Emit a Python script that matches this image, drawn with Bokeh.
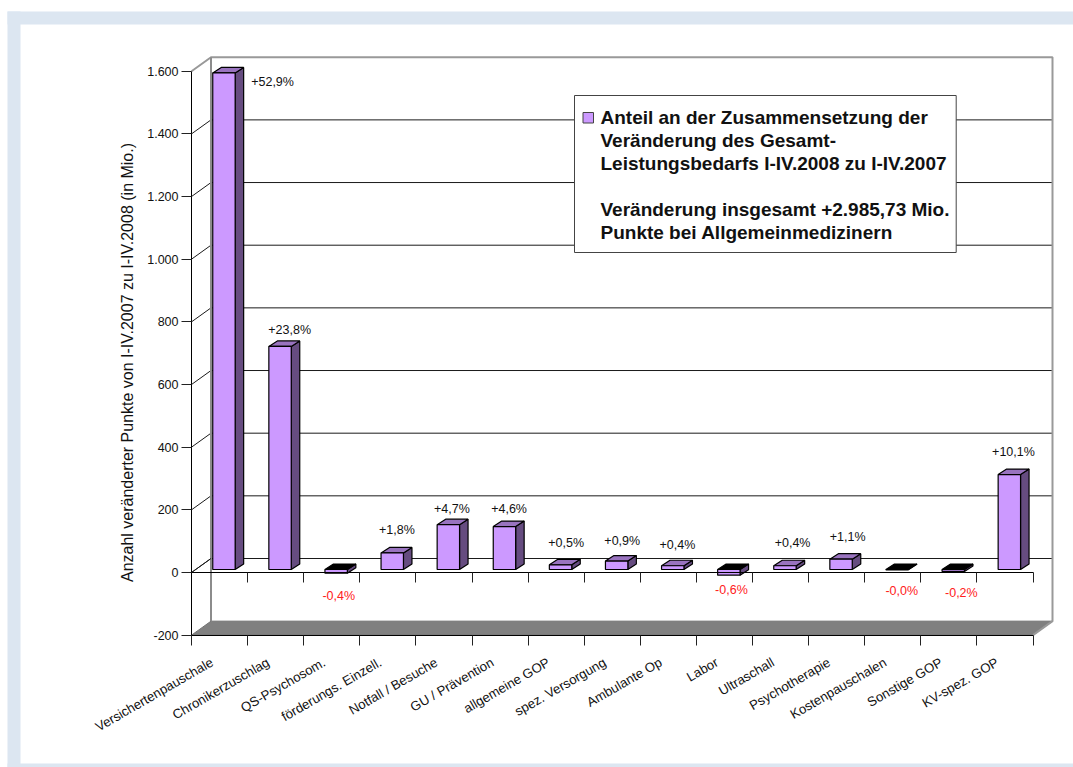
from bokeh.plotting import figure
from bokeh.embed import file_html
from bokeh.resources import INLINE
from bokeh.models import Range1d, LinearAxis, FixedTicker
from bokeh.core.properties import value

categories = ["Versichertenpauschale", "Chronikerzuschlag", "QS-Psychosom.", "förderungs. Einzell.",
              "Notfall / Besuche", "GU / Prävention", "allgemeine GOP", "spez. Versorgung", "Ambulante Op",
              "Labor", "Ultraschall", "Psychotherapie", "Kostenpauschalen", "Sonstige GOP", "KV-spez. GOP"]
values = [1585, 712, -12, 53, 143, 137, 15, 27, 12, -18, 12, 33, -1, -6, 303]
share_labels = ["+52,9%", "+23,8%", "-0,4%", "+1,8%", "+4,7%", "+4,6%", "+0,5%", "+0,9%", "+0,4%",
                "-0,6%", "+0,4%", "+1,1%", "-0,0%", "-0,2%", "+10,1%"]
y_ticks = [-200, 0, 200, 400, 600, 800, 1000, 1200, 1400, 1600]
y_tick_labels = ["-200", "0", "200", "400", "600", "800", "1.000", "1.200", "1.400", "1.600"]
y_title = "Anzahl veränderter Punkte von I-IV.2007 zu I-IV.2008 (in Mio.)"
legend_lines = ["Anteil an der Zusammensetzung der", "Veränderung des Gesamt-",
                "Leistungsbedarfs I-IV.2008 zu I-IV.2007", "",
                "Veränderung insgesamt +2.985,73 Mio.", "Punkte bei Allgemeinmedizinern"]

# layout (page pixels)
ORG = 0
W, H = 1073, 767
X0, CAT_W = 191.0, 56.1
Y0, PX_PER = 572.0, 0.3133
WALL_DX, WALL_DY = 19.5, -14.0
BAR_DX, BAR_DY = 4.4, -3.0
BAR_W = 22.4
SIDE_DX, SIDE_DY = 8.5, -5.5
LABEL_SHIFT = -7.5
label_off = [(48, 9), (9, -16), (2, 26), (4, -23), (3, -16), (4, -18), (5, -22), (5, -20), (4, -21),
             (2, 20), (7, -23), (6, -22), (4, 21), (7.5, 23), (3.5, -23)]
FACE, TOP, SIDE = "#CC99FF", "#9973BF", "#664C80"
FONT = "Liberation Sans"


def X(px):
    return (px - X0) / CAT_W


def Y(py):
    return (Y0 - py) / PX_PER


def dX(d):
    return d / CAT_W


def dY(d):
    return -d / PX_PER


p = figure(width=W, height=H, output_backend="svg", toolbar_location=None,
           x_axis_type=None, y_axis_type=None, min_border=0,
           x_range=Range1d(X(ORG), X(ORG + W)), y_range=Range1d(Y(ORG + H), Y(ORG)))
p.grid.visible = False
p.outline_line_color = None
p.background_fill_color = "white"
p.border_fill_color = "white"

# page frame
p.quad(left=[X(7), X(7), X(7)], right=[X(ORG + W), X(20), X(ORG + W)],
       top=[Y(11), Y(11), Y(763)], bottom=[Y(24), Y(ORG + H), Y(ORG + H)],
       fill_color="#DCE6F1", line_color=None)

# walls
wx, wy = dX(WALL_DX), dY(WALL_DY)
n = len(categories)
p.patch([0, wx, n + wx, n], [-200, -200 + wy, -200 + wy, -200], fill_color="#808080",
        line_color="#707070", line_width=1)
grid_vals = [t for t in y_ticks if -200 < t < 1600]
p.segment(x0=[wx] * len(grid_vals), x1=[n + wx] * len(grid_vals),
          y0=[t + wy for t in grid_vals], y1=[t + wy for t in grid_vals], line_color="#1a1a1a", line_width=1)
p.segment(x0=[0] * len(grid_vals), x1=[wx] * len(grid_vals), y0=grid_vals,
          y1=[t + wy for t in grid_vals], line_color="#1a1a1a", line_width=1)
p.line([0, wx, n + wx, n + wx, n], [1600, 1600 + wy, 1600 + wy, -200 + wy, -200],
       line_color="#999999", line_width=2)
p.line([wx, wx], [-200 + wy, 1600 + wy], line_color="#8c8c8c", line_width=2)
p.segment(x0=[0], x1=[wx], y0=[0], y1=[wy], line_color="#1a1a1a", line_width=1)

# bars
bw = dX(BAR_W)
bdx, bdy = dX(BAR_DX), dY(BAR_DY)
sdx, sdy = dX(SIDE_DX), dY(SIDE_DY)
for k, v in enumerate(values):
    c = k + 0.5 + bdx
    l, r = c - bw / 2, c + bw / 2
    base, hi = bdy, v + bdy
    top_val = max(base, hi)
    low_val = min(base, hi)
    p.patch([r, r + sdx, r + sdx, r], [low_val, low_val + sdy, top_val + sdy, top_val],
            fill_color=SIDE, line_color="black", line_width=1.2)
    p.patch([l, l + sdx, r + sdx, r], [top_val, top_val + sdy, top_val + sdy, top_val],
            fill_color=TOP if v > 0 else "black", line_color="black", line_width=1.2)
    p.quad(left=[l], right=[r], top=[top_val], bottom=[low_val], fill_color=FACE,
           line_color="black", line_width=1.2)

# value labels
lx = [k + 0.5 + dX(5.0) + dX(o[0]) for k, o in enumerate(label_off)]
ly = [(v if v > 0 else 0) + bdy + dY(o[1]) for v, o in zip(values, label_off)]
colors = ["#FF2020" if s.startswith("-") else "#111111" for s in share_labels]
p.text(lx, ly, text=share_labels, text_color=colors, text_font=value(FONT), text_font_size="12.5px",
       text_align="center", text_baseline="middle")

# legend box
p.quad(left=[X(574)], right=[X(955.7)], top=[Y(95)], bottom=[Y(252)], fill_color="white",
       line_color="#444444", line_width=1)
p.quad(left=[X(582.5)], right=[X(593)], top=[Y(112)], bottom=[Y(122.5)], fill_color=FACE,
       line_color="#444444", line_width=1)
p.text([X(600)] * len(legend_lines), [Y(117 + 22.9 * i) for i in range(len(legend_lines))], text=legend_lines,
       text_font=value(FONT), text_font_style="bold", text_font_size="19px", text_color="#111111",
       text_align="left", text_baseline="middle")

# y title
p.text([X(127)], [Y(362)], text=[y_title], angle=1.5708, angle_units="rad", text_font=value(FONT),
       text_font_size="16px", text_color="#111111", text_align="center", text_baseline="middle")

# axes
ya = LinearAxis(fixed_location=0, ticker=FixedTicker(ticks=y_ticks), bounds=(-200, 1600),
                major_label_overrides={t: s for t, s in zip(y_ticks, y_tick_labels)},
                major_tick_in=0, major_tick_out=10, minor_tick_line_color=None, major_label_standoff=3,
                major_label_text_font=FONT, major_label_text_font_size="12.5px",
                major_label_text_color="#111111", axis_line_color="black", major_tick_line_color="#222222")
p.add_layout(ya, "left")

edges = list(range(n + 1))
xa0 = LinearAxis(fixed_location=0, ticker=FixedTicker(ticks=[], minor_ticks=edges), bounds=(0, n),
                 major_tick_line_color=None, minor_tick_in=0, minor_tick_out=10,
                 axis_line_color="black", minor_tick_line_color="#222222")
p.add_layout(xa0, "below")

centers = [k + 0.5 + dX(LABEL_SHIFT) for k in range(n)]
la = LinearAxis(fixed_location=-200, ticker=FixedTicker(ticks=centers, minor_ticks=edges), bounds=(0, n),
                major_label_overrides={c: s for c, s in zip(centers, categories)},
                major_label_orientation=0.5236, major_tick_in=0, major_tick_out=0,
                minor_tick_in=0, minor_tick_out=10, minor_tick_line_color="#222222",
                axis_line_color="black", major_label_standoff=16, major_label_text_font=FONT,
                major_label_text_font_size="13.2px", major_label_text_color="#111111")
p.add_layout(la, "below")

open("out.html", "w").write(file_html(p, INLINE))
